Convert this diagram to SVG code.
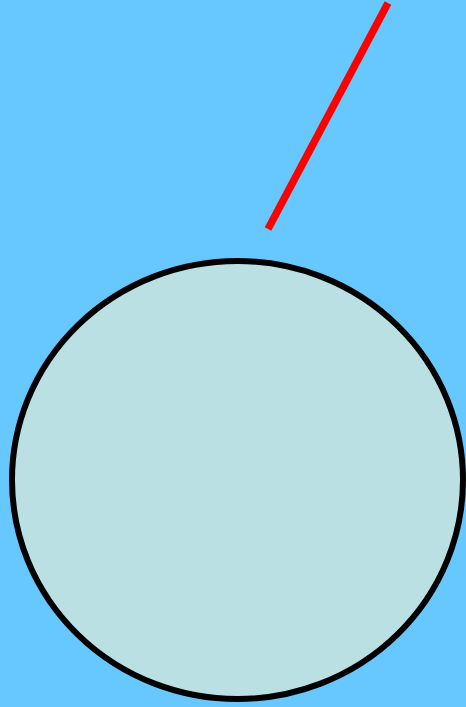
<svg xmlns="http://www.w3.org/2000/svg" width="466" height="707" viewBox="0 0 466 707">
  <style>
    .bg { fill: #66c8ff; }
    .ball { fill: #bbe0e3; stroke: #000; stroke-width: 6; }
    .string { stroke: #ff0000; stroke-width: 7.5; fill: none; }
  </style>
  <rect class="bg" x="0" y="0" width="466" height="707"/>
  <line class="string" x1="388" y1="3" x2="268" y2="229"/>
  <ellipse class="ball" cx="237.5" cy="480" rx="225.5" ry="219"/>
</svg>
